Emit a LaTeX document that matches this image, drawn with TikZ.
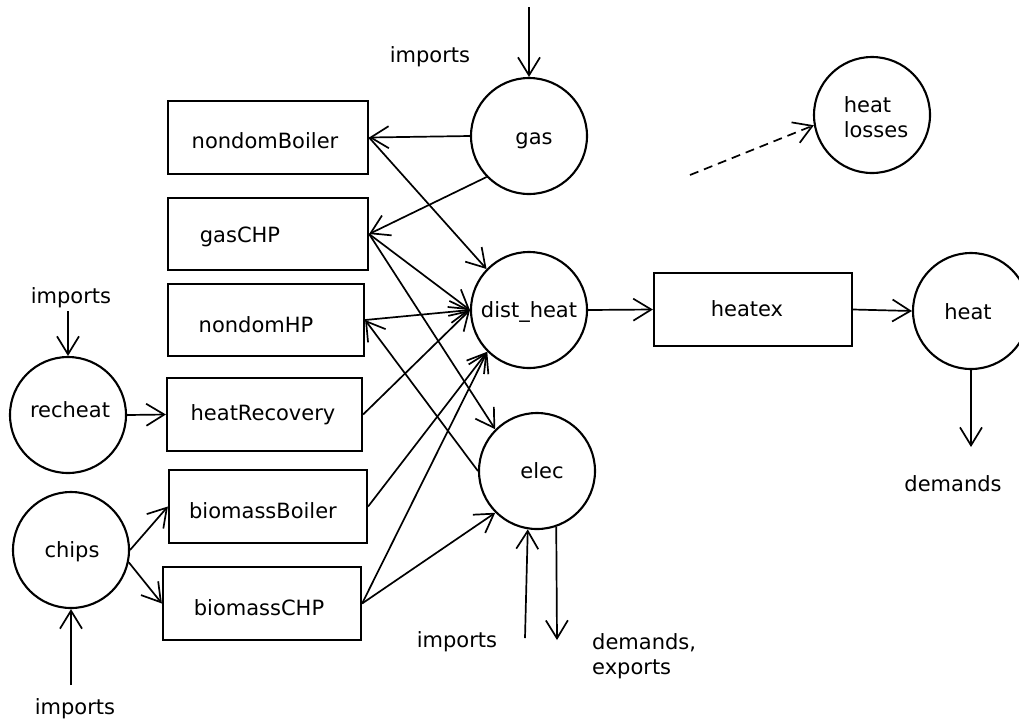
\documentclass[tikz,border=0pt]{standalone}
\usepackage{fontspec}
\setmainfont{DejaVu Sans}
\usetikzlibrary{arrows.meta}
\begin{document}
\begin{tikzpicture}[x=1pt,y=-1pt,
  font=\fontsize{21}{25}\selectfont,
  proc/.style={draw, rectangle, line width=2.2pt, inner sep=0pt},
  bus/.style={draw, circle, line width=2.1pt, minimum size=116pt, inner sep=0pt},
  flow/.style={line width=1.7pt, -{Straight Barb[length=18pt,width=22pt]}},
  loss/.style={flow, dash pattern=on 9pt off 6pt},
  txt/.style={inner sep=0pt}]
\path[use as bounding box, clip] (0,0) rectangle (1019,724);

% process boxes
\node[proc, minimum width=200pt, minimum height=73pt,
  label={[xshift=-3pt,yshift=-3.5pt]center:nondomBoiler}] (nb) at (268,137.5) {};
\node[proc, minimum width=200pt, minimum height=72pt,
  label={[xshift=-28pt,yshift=-3pt]center:gasCHP}] (gaschp) at (268,234) {};
\node[proc, minimum width=196pt, minimum height=72pt,
  label={[xshift=-10pt,yshift=-5pt]center:nondomHP}] (nhp) at (266,320) {};
\node[proc, minimum width=195pt, minimum height=73pt,
  label={[xshift=-1.5pt,yshift=0pt]center:heatRecovery}] (hr) at (264.5,414.5) {};
\node[proc, minimum width=198pt, minimum height=73pt,
  label={[xshift=-5pt,yshift=-4pt]center:biomassBoiler}] (bb) at (268,506.5) {};
\node[proc, minimum width=198pt, minimum height=73pt,
  label={[xshift=-3pt,yshift=-4pt]center:biomassCHP}] (bc) at (262,603.5) {};
\node[proc, minimum width=198pt, minimum height=73pt,
  label={[xshift=-6pt,yshift=1pt]center:heatex}] (hx) at (753,309.5) {};

% commodity circles
\node[bus, label={[xshift=5pt,yshift=-5pt]center:gas}] (gas) at (529,136) {};
\node[bus, label={[xshift=0pt,yshift=-2pt]center:dist\_heat}] (dh) at (529,310) {};
\node[bus, label={[xshift=5pt,yshift=0pt]center:elec}] (elec) at (537,471) {};
\node[bus, label={[xshift=4pt,yshift=-2pt,align=left]center:heat\\losses}] (hl) at (872,115) {};
\node[bus, label={[xshift=-3pt,yshift=-1pt]center:heat}] (heat) at (971,311) {};
\node[bus, label={[xshift=2pt,yshift=5pt]center:recheat}] (rec) at (68,415) {};
\node[bus, label={[xshift=1pt,yshift=-2pt]center:chips}] (chips) at (71,550) {};

% free ends
\coordinate (gasin) at (529,7);
\coordinate (hlstart) at (690,175);
\coordinate (heatout) at (971,447);
\coordinate (recin) at (68,311);
\coordinate (chipsin) at (71,685);
\coordinate (elecin) at (525,638);
\coordinate (elecout) at (557,640);

% texts
\node[txt] (t1) at (430,57) {imports};
\node[txt] (t2) at (71,298) {imports};
\node[txt] (t3) at (75,709) {imports};
\node[txt] (t4) at (457,642) {imports};
\node[txt, anchor=west, align=left] (t5) at (592,656) {demands,\\exports};
\node[txt] (t6) at (953,484) {demands};

% connectors
\draw[flow] (gasin) -- (gas.north);
\draw[flow] (gas.west) -- (nb.east);
\draw[flow] (gas.224) -- (gaschp.east);
\draw[flow] (nb.east) -- (dh.136);
\draw[flow] (gaschp.east) -- (dh.west);
\draw[flow] (gaschp.east) -- (elec.135);
\draw[flow] (nhp.east) -- (dh.west);
\draw[flow] (elec.west) -- (nhp.east);
\draw[flow] (hr.east) -- (dh.west);
\draw[flow] (bb.east) -- (dh.225);
\draw[flow] (bc.east) -- (dh.225);
\draw[flow] (bc.east) -- (elec.225);
\draw[flow] (dh.east) -- (hx.west);
\draw[flow] (hx.east) -- (heat.west);
\draw[flow] (heat.south) -- (heatout);
\draw[loss] (hlstart) -- (hl.190);
\draw[flow] (recin) -- (rec.north);
\draw[flow] (rec.east) -- (hr.west);
\draw[flow] (chips.east) -- (bb.west);
\draw[flow] (chips.-12) -- (bc.west);
\draw[flow] (chipsin) -- (chips.south);
\draw[flow] (elecin) -- (elec.-99);
\draw[flow] (elec.-71) -- (elecout);
\end{tikzpicture}
\end{document}
